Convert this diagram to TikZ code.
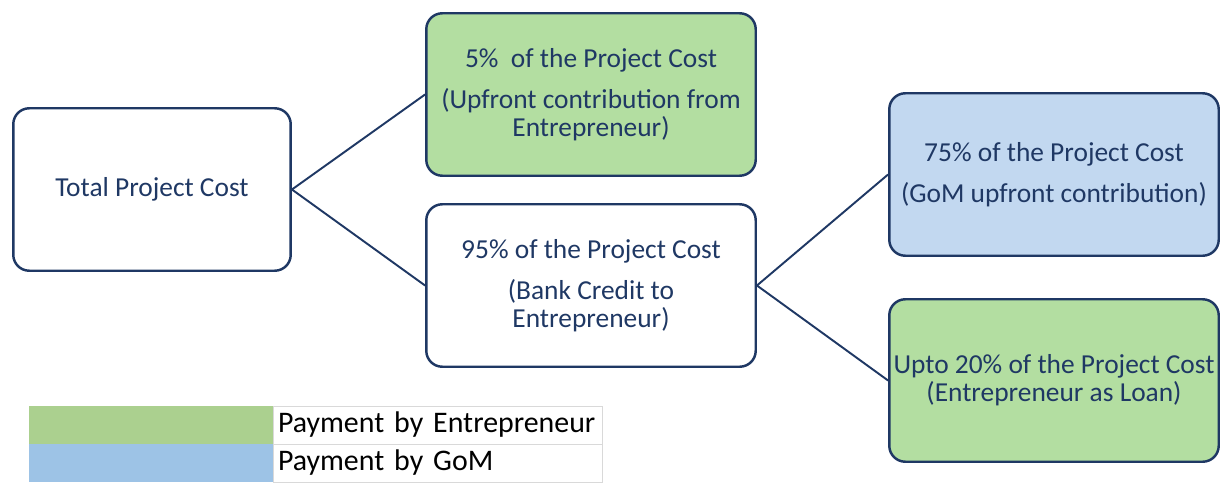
\documentclass[tikz,border=0pt]{standalone}
\usepackage{fontspec}
\setmainfont{Carlito}
\definecolor{navy}{HTML}{1F3864}
\definecolor{boxgreen}{HTML}{B3DEA1}
\definecolor{boxblue}{HTML}{C2D8F0}
\definecolor{keygreen}{HTML}{ABD08F}
\definecolor{keyblue}{HTML}{9DC3E6}
\tikzset{
  costbox/.style={draw=navy, line width=1.4pt, rounded corners=0.32cm, text=navy, align=center,
    minimum width=6.59cm, minimum height=3.25cm, inner sep=0pt, font=\fontsize{15.6}{16}\selectfont},
  link/.style={draw=navy, line width=1.1pt},
  keycell/.style={minimum width=4.88cm, minimum height=0.76cm, inner sep=0pt},
  keytext/.style={draw=gray!30, line width=0.5pt, minimum height=0.76cm, text width=6.38cm,
    inner xsep=0.1cm, inner ysep=0pt, align=left, font=\fontsize{17}{18}\selectfont}
}
\begin{document}
\begin{tikzpicture}[x=0.02cm, y=-0.02cm]
\useasboundingbox (0,0) rectangle (1229,483);

\node[costbox, minimum width=5.55cm] (total) at (152,189.5) {Total Project Cost};
\node[costbox, fill=boxgreen] (five) at (591,94.5) {5\%\ \ of the Project Cost\\[7.4pt](Upfront contribution from\\Entrepreneur)};
\node[costbox] (ninetyfive) at (591,285.5) {95\% of the Project Cost\\[7.4pt](Bank Credit to\\Entrepreneur)};
\node[costbox, fill=boxblue] (seventyfive) at (1054,174.5) {75\% of the Project Cost\\[7.4pt](GoM upfront contribution)};
\node[costbox, fill=boxgreen] (twenty) at (1054,380.5) {Upto 20\% of the Project Cost\\(Entrepreneur as Loan)};

\draw[link] (total.east) -- (five.west);
\draw[link] (total.east) -- (ninetyfive.west);
\draw[link] (ninetyfive.east) -- (seventyfive.west);
\draw[link] (ninetyfive.east) -- (twenty.west);

% legend
\node[keytext] (keyent) at (437.5,425) {Payment by Entrepreneur};
\node[keytext] (keygom) at (437.5,463) {Payment by GoM};
\node[keycell, fill=keygreen] (greencell) at (151,425) {};
\node[keycell, fill=keyblue] (bluecell) at (151,463) {};
\end{tikzpicture}
\end{document}
